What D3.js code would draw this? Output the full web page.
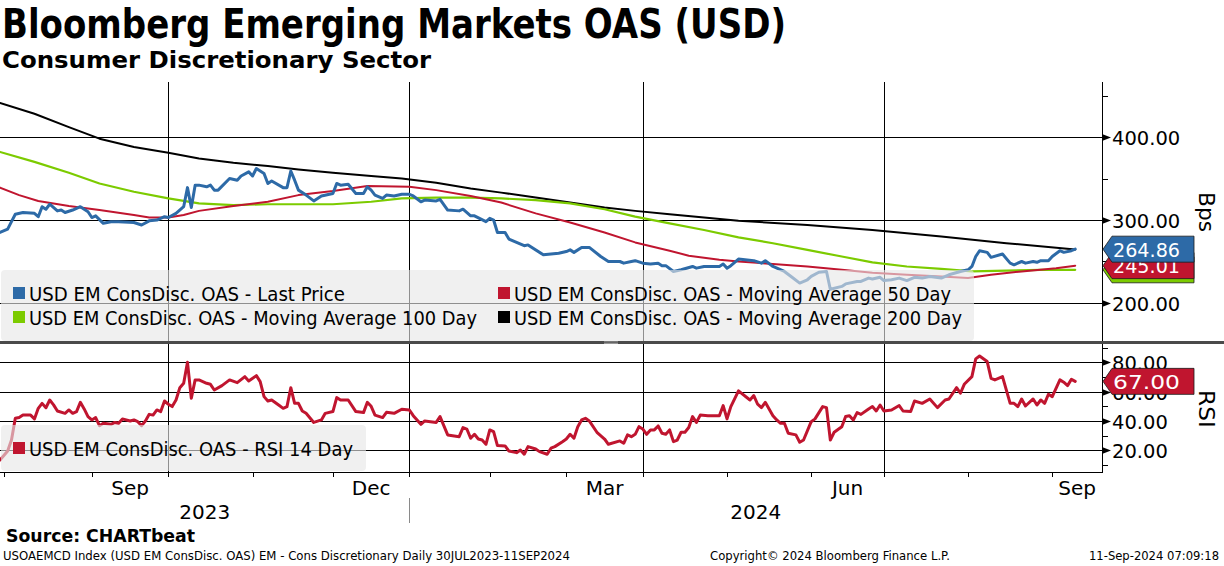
<!DOCTYPE html>
<html>
<head>
<meta charset="utf-8">
<script src="https://cdn.jsdelivr.net/npm/d3@7"></script>
<style>
  html, body { margin: 0; padding: 0; background: #fff; }
  svg { display: block; font-family: "DejaVu Sans", Verdana, sans-serif; }
</style>
</head>
<body>
<svg id="chart" width="1224" height="566"></svg>
<script>
// ---- data (x = trading day index, 0 = 31 Jul 2023, 281 = 11 Sep 2024) ----
const lastDays = [0, 2, 3, 4, 6, 9, 10, 11, 12, 13, 15, 16, 17, 19, 21, 23, 24, 25, 27, 29, 31, 35, 37, 39, 41, 43, 44, 46, 48, 49, 50, 51, 52, 54, 55, 56, 57, 60, 62, 63, 65, 66, 67, 69, 70, 71, 74, 75, 76, 77, 78, 80, 82, 84, 87, 88, 89, 91, 93, 95, 96, 97, 98, 100, 101, 103, 105, 107, 108, 110, 111, 114, 115, 117, 120, 121, 123, 124, 127, 128, 129, 130, 132, 133, 135, 137, 138, 142, 144, 146, 148, 149, 150, 152, 154, 157, 159, 162, 163, 165, 166, 168, 170, 172, 173, 174, 176, 178, 181, 182, 184, 188, 189, 190, 191, 193, 197, 199, 200, 202, 205, 207, 209, 211, 212, 214, 216, 217, 220, 221, 224, 225, 227, 228, 230, 231, 233, 235, 237, 239, 241, 243, 246, 248, 251, 253, 254, 255, 256, 258, 259, 262, 264, 265, 267, 268, 270, 271, 272, 274, 275, 277, 278, 280, 281];
const lastVals = [285, 289, 298, 307, 309, 308, 304, 316, 313, 319, 311, 312, 309, 312, 316, 310, 303, 305, 296, 298, 298, 297, 294, 299, 300, 304, 303, 308, 316, 339, 315, 342, 342, 340, 342, 336, 336, 350, 348, 353, 358, 353, 362, 356, 344, 347, 339, 339, 359, 348, 336, 330, 323, 329, 332, 344, 342, 343, 332, 332, 340, 336, 330, 326, 330, 329, 331, 331, 329, 322, 324, 323, 325, 312, 311, 313, 305, 305, 298, 302, 300, 285, 285, 277, 273, 269, 270, 258, 259, 260, 262, 264, 261, 267, 267, 256, 250, 250, 248, 250, 251, 248, 247, 248, 245, 245, 238, 240, 244, 242, 244, 244, 247, 242, 245, 253, 251, 248, 251, 244, 238, 231, 224, 228, 232, 237, 238, 216.5, 220, 223, 226, 226, 230, 229, 231, 227, 228, 230, 227, 231, 230, 232, 230, 234, 238, 240, 244, 256, 263, 261, 255, 259, 248, 246, 250, 248, 250, 249, 251, 251, 256, 263, 261, 263, 264.86];

const ma50Days = [0, 5, 10, 18, 26, 35, 39, 44, 48, 52, 61, 70, 78, 87, 96, 107, 114, 123, 131, 140, 149, 158, 166, 175, 180, 188, 193, 202, 211, 220, 228, 237, 246, 253, 259, 267, 276, 281];
const ma50Vals = [339, 330, 323, 317, 312, 306, 303, 303, 306, 311, 317, 322, 330, 335, 341, 340, 336, 329, 321, 308, 297, 285, 273, 263, 257, 252, 250, 247, 244, 240, 236.5, 234, 232, 230, 234, 238, 242, 245.01];

const ma100Days = [0, 9, 18, 26, 35, 44, 52, 61, 70, 78, 87, 97, 105, 114, 123, 131, 140, 149, 158, 166, 175, 184, 193, 202, 211, 220, 228, 237, 246, 254, 263, 272, 281];
const ma100Vals = [382, 370, 357, 344, 334, 326, 320, 318, 319, 319, 319, 322, 326, 327, 327, 326, 324, 320, 313, 304, 296, 288, 279, 272, 264, 256, 249, 244, 241, 238, 239, 240, 240];

const ma200Days = [0, 9, 18, 26, 35, 44, 52, 61, 70, 78, 87, 97, 105, 114, 123, 131, 140, 149, 158, 166, 175, 184, 193, 211, 228, 246, 263, 281];
const ma200Vals = [441, 428, 412, 398, 388, 381, 374, 369, 365, 361, 357, 353, 350, 345, 338, 333, 327, 321, 315, 311, 307, 303, 299, 294, 288, 280, 272, 264.5];

const rsiDays = [0, 2, 3, 4, 5, 6, 8, 9, 10, 11, 12, 13, 14, 15, 17, 18, 19, 20, 21, 22, 23, 24, 25, 26, 27, 29, 30, 31, 32, 34, 35, 36, 37, 38, 39, 40, 41, 42, 43, 44, 45, 46, 47, 48, 49, 50, 51, 52, 54, 55, 56, 58, 60, 62, 64, 65, 67, 68, 69, 70, 71, 73, 74, 75, 76, 77, 78, 79, 80, 82, 84, 85, 87, 88, 89, 91, 93, 95, 96, 97, 98, 100, 101, 103, 105, 107, 108, 110, 111, 114, 115, 117, 120, 121, 122, 123, 124, 125, 126, 127, 128, 129, 130, 132, 133, 135, 136, 137, 138, 140, 141, 143, 144, 145, 147, 148, 149, 150, 151, 152, 153, 154, 156, 158, 159, 162, 163, 164, 165, 166, 167, 168, 169, 170, 171, 172, 173, 174, 175, 176, 177, 178, 179, 180, 181, 182, 183, 185, 188, 189, 190, 191, 193, 196, 197, 198, 199, 200, 202, 203, 204, 205, 206, 208, 209, 210, 212, 213, 215, 216, 217, 218, 220, 221, 222, 223, 224, 225, 227, 228, 229, 230, 231, 233, 235, 236, 238, 239, 241, 243, 245, 247, 248, 250, 251, 252, 254, 255, 256, 258, 259, 260, 262, 264, 265, 266, 267, 268, 270, 271, 272, 273, 274, 275, 277, 278, 279, 280, 281];
const rsiVals = [13.4, 19.5, 27, 41.8, 42.3, 44, 44, 41.4, 48.6, 52, 49, 54.3, 51, 46.8, 45.2, 47.5, 45.2, 46.4, 52.7, 48.2, 43, 40.7, 42.3, 36.8, 38.4, 37.7, 39, 38.4, 41.4, 40, 40.7, 39.5, 36.8, 40, 44.5, 44, 47.5, 46.4, 53.6, 51.4, 49.8, 54.3, 62.7, 65.7, 80, 55.5, 68, 68, 65.7, 65, 61.1, 64.1, 68, 66.1, 70.2, 67.3, 70.9, 66.8, 56.6, 53.6, 54.3, 50.5, 48.6, 49.8, 62.7, 52, 52, 46.8, 45.2, 39, 40.7, 45.2, 46.4, 55.9, 54.3, 54.3, 46.4, 45.7, 52.7, 50, 44, 42.3, 45.9, 45.2, 48, 47.5, 43.6, 37.7, 40, 39, 43, 30.5, 29.3, 35.5, 34.5, 28.2, 30.9, 27.7, 27, 24.1, 33.9, 32.7, 23.2, 23, 19.5, 18.4, 20.2, 17.3, 22.5, 20.9, 19.1, 17.3, 21.4, 22.5, 25.9, 27.7, 30.9, 28.2, 36.1, 40.7, 41.8, 40, 32.3, 27.7, 24.1, 26.4, 24.8, 30.5, 29.3, 30.9, 36.1, 34.5, 30.9, 33.9, 33.9, 36.6, 31.6, 30.9, 33.9, 25.9, 27, 32.3, 32.3, 35.5, 43, 39, 44, 43.6, 43.6, 50.5, 41.4, 49.8, 60.5, 54.3, 57.3, 51.4, 49.1, 52.7, 43.6, 40.7, 38.4, 38.4, 31.6, 30.5, 25.5, 27, 39.5, 41.4, 49.8, 49.1, 27, 32.3, 36.1, 43, 43.6, 40.7, 45.7, 44.5, 48.2, 49.8, 46.8, 50.9, 46.8, 47.5, 50.5, 46.8, 46.4, 53.6, 52, 55, 49.1, 54.3, 55, 62.7, 58.9, 65, 70.2, 82.3, 84.3, 80.5, 69.1, 68, 70.2, 52, 52, 49.8, 55, 50.2, 55, 50.9, 54.3, 52, 58.2, 56.6, 68, 66.4, 64.1, 68.4, 67];

// axis ticks and labels
const monthStartDays = [1, 24, 44, 66, 87, 107, 128, 148, 168, 190, 212, 231, 253, 275];
const quarterStartDays = [44, 107, 168, 231];
const monthLabels = ["Sep", "Dec", "Mar", "Jun", "Sep"];
const monthLabelDays = [34, 97, 158, 221.5, 281.5];
const yearLabels = ["2023", "2024"];
const yearLabelDays = [53.5, 197.5];
const yearBreakDay = 107;
const bpsTicks = [200, 300, 400];
const bpsMinorTicks = [250, 350, 450];
const rsiTicks = [20, 40, 60, 80];
const rsiMinorTicks = [10, 30, 50, 70, 90];

const seriesNames = [
  "USD EM ConsDisc. OAS - Last Price",
  "USD EM ConsDisc. OAS - Moving Average 50 Day",
  "USD EM ConsDisc. OAS - Moving Average 100 Day",
  "USD EM ConsDisc. OAS - Moving Average 200 Day",
  "USD EM ConsDisc. OAS - RSI 14 Day"
];

// ---- styles ----
const BLUE = "#2d6aa7", RED = "#c0152f", GREEN = "#7ccb00", BLACK = "#000";
const FONT = "'DejaVu Sans', Verdana, sans-serif";

const svg = d3.select("#chart");
const plotRight = 1102;

const x = d3.scaleLinear().domain([0, 288]).range([0, plotRight]);
const yTop = d3.scaleLinear().domain([154.2, 466.3]).range([341, 82]);
const yRsi = d3.scaleLinear().domain([5.2, 91.8]).range([472, 345]);

const zip = (days, vals) => days.map((d, i) => [d, vals[i]]);

// text helper: set size and squeeze to the width seen in the picture
function txt(g, s, px, py, size, width, opts = {}) {
  const t = g.append("text")
    .attr("x", px).attr("y", py)
    .attr("font-size", size)
    .attr("font-family", FONT)
    .attr("font-weight", opts.bold ? "bold" : "normal")
    .attr("fill", opts.fill || "#000")
    .attr("text-anchor", opts.anchor || "start")
    .text(s);
  if (width) t.attr("textLength", width).attr("lengthAdjust", "spacingAndGlyphs");
  return t;
}

// ---- titles ----
txt(svg, "Bloomberg Emerging Markets OAS (USD)", 2, 37.5, 41, 784, { bold: true });
txt(svg, "Consumer Discretionary Sector", 2, 67.5, 22.5, 429, { bold: true });

// ---- grid ----
const grid = svg.append("g").attr("stroke", "#000").attr("stroke-width", 1);
grid.selectAll(".hb").data(bpsTicks).enter().append("line")
  .attr("x1", 0).attr("x2", plotRight)
  .attr("y1", d => Math.round(yTop(d)) + 0.5).attr("y2", d => Math.round(yTop(d)) + 0.5);
grid.selectAll(".hr").data(rsiTicks).enter().append("line")
  .attr("x1", 0).attr("x2", plotRight)
  .attr("y1", d => Math.round(yRsi(d)) + 0.5).attr("y2", d => Math.round(yRsi(d)) + 0.5);
grid.selectAll(".vq").data(quarterStartDays).enter().append("line")
  .attr("x1", d => Math.round(x(d)) + 0.5).attr("x2", d => Math.round(x(d)) + 0.5)
  .attr("y1", 82).attr("y2", 472);

// ---- lines ----
const lineTop = d3.line().x(d => x(d[0])).y(d => yTop(d[1]));
const lineRsi = d3.line().x(d => x(d[0])).y(d => yRsi(d[1]));

function drawLine(data, gen, color, w) {
  svg.append("path").datum(data)
    .attr("d", gen).attr("fill", "none")
    .attr("stroke", color).attr("stroke-width", w)
    .attr("stroke-linejoin", "round").attr("stroke-linecap", "round");
}
drawLine(zip(ma200Days, ma200Vals), lineTop, BLACK, 2);
drawLine(zip(ma100Days, ma100Vals), lineTop, GREEN, 2.2);
drawLine(zip(ma50Days, ma50Vals), lineTop, RED, 2);
drawLine(zip(lastDays, lastVals), lineTop, BLUE, 3);
drawLine(zip(rsiDays, rsiVals), lineRsi, RED, 3);

// ---- legends (semi transparent, lines show through faded) ----
const leg = svg.append("g");
leg.append("rect").attr("x", 1).attr("y", 270).attr("width", 973).attr("height", 71)
  .attr("rx", 4).attr("fill", "#e6e6e6").attr("fill-opacity", 0.62);
leg.append("rect").attr("x", 1).attr("y", 425).attr("width", 365).attr("height", 46)
  .attr("rx", 4).attr("fill", "#e6e6e6").attr("fill-opacity", 0.62);

const legendItems = [
  { name: seriesNames[0], color: BLUE, mx: 13, my: 287, w: 316 },
  { name: seriesNames[1], color: RED, mx: 498, my: 287, w: 437 },
  { name: seriesNames[2], color: GREEN, mx: 13, my: 311, w: 448 },
  { name: seriesNames[3], color: BLACK, mx: 498, my: 311, w: 448 },
  { name: seriesNames[4], color: RED, mx: 13, my: 442, w: 324 }
];
legendItems.forEach(d => {
  leg.append("rect").attr("x", d.mx).attr("y", d.my).attr("width", 12).attr("height", 12).attr("fill", d.color);
  txt(leg, d.name, d.mx + 16, d.my + 14, 19, d.w);
});

// ---- panel separator ----
svg.append("rect").attr("x", 0).attr("y", 341).attr("width", 1224).attr("height", 3).attr("fill", "#4a4a4a");
svg.append("rect").attr("x", 604).attr("y", 341.5).attr("width", 14).attr("height", 0.8).attr("fill", "#aaa");
svg.append("rect").attr("x", 604).attr("y", 343).attr("width", 14).attr("height", 0.8).attr("fill", "#aaa");

// ---- right axes ----
const ax = svg.append("g");
ax.append("line").attr("x1", plotRight + 0.5).attr("x2", plotRight + 0.5).attr("y1", 82).attr("y2", 341).attr("stroke", "#000");
ax.append("line").attr("x1", plotRight + 0.5).attr("x2", plotRight + 0.5).attr("y1", 344).attr("y2", 473).attr("stroke", "#000");

function majorTicks(vals, scale) {
  vals.forEach(v => {
    const yy = Math.round(scale(v)) + 0.5;
    ax.append("path").attr("d", `M${plotRight},${yy - 3.5}L${plotRight + 9},${yy}L${plotRight},${yy + 3.5}Z`).attr("fill", "#000");
    txt(ax, v.toFixed(2), 1112, yy + 7, 19.5, null);
  });
}
function minorTicks(vals, scale) {
  vals.forEach(v => {
    const yy = Math.round(scale(v)) + 0.5;
    ax.append("line").attr("x1", plotRight).attr("x2", plotRight + 6).attr("y1", yy).attr("y2", yy).attr("stroke", "#000");
  });
}
majorTicks(bpsTicks, yTop);
minorTicks(bpsMinorTicks, yTop);
majorTicks(rsiTicks, yRsi);
minorTicks(rsiMinorTicks, yRsi);

txt(ax, "Bps", 0, 0, 21, 40).attr("transform", "translate(1199,192) rotate(90)");
txt(ax, "RSI", 0, 0, 21, 38).attr("transform", "translate(1199,390) rotate(90)");

// ---- last value tags ----
function tag(v, scale, color, label) {
  const yy = scale(v), h = 26, x0 = plotRight + 1, tip = 9, x1 = 1194;
  const g = svg.append("g");
  g.append("path")
    .attr("d", `M${x0},${yy}L${x0 + tip},${yy - h / 2}L${x1},${yy - h / 2}L${x1},${yy + h / 2}L${x0 + tip},${yy + h / 2}Z`)
    .attr("fill", color).attr("stroke", "#1a1a1a").attr("stroke-width", 0.8);
  txt(g, label, 1113, yy + 7.5, 20, 67, { fill: "#fff" });
}
tag(ma100Vals[ma100Vals.length - 1], yTop, GREEN, ma100Vals[ma100Vals.length - 1].toFixed(2));
tag(ma50Vals[ma50Vals.length - 1], yTop, RED, ma50Vals[ma50Vals.length - 1].toFixed(2));
tag(lastVals[lastVals.length - 1], yTop, BLUE, lastVals[lastVals.length - 1].toFixed(2));
tag(rsiVals[rsiVals.length - 1], yRsi, RED, rsiVals[rsiVals.length - 1].toFixed(2));

// ---- bottom time axis ----
const bx = svg.append("g");
bx.append("line").attr("x1", 0).attr("x2", plotRight + 1).attr("y1", 472.5).attr("y2", 472.5).attr("stroke", "#000");
bx.selectAll(".mt").data(monthStartDays).enter().append("line")
  .attr("x1", d => Math.round(x(d)) + 0.5).attr("x2", d => Math.round(x(d)) + 0.5)
  .attr("y1", 472).attr("y2", 477).attr("stroke", "#000");
monthLabels.forEach((m, i) => txt(bx, m, x(monthLabelDays[i]), 495, 20, null, { anchor: "middle" }));
yearLabels.forEach((yv, i) => txt(bx, yv, x(yearLabelDays[i]), 519, 20, null, { anchor: "middle" }));
bx.append("line").attr("x1", Math.round(x(yearBreakDay)) + 0.5).attr("x2", Math.round(x(yearBreakDay)) + 0.5)
  .attr("y1", 498).attr("y2", 523).attr("stroke", "#8a8a8a");

// ---- footer ----
txt(svg, "Source: CHARTbeat", 6, 541.5, 17.5, 189, { bold: true });
txt(svg, "USOAEMCD Index (USD EM ConsDisc. OAS) EM - Cons Discretionary  Daily 30JUL2023-11SEP2024", 3, 560, 12, 567);
txt(svg, "Copyright\u00A9 2024 Bloomberg Finance L.P.", 710, 560, 12, 240);
txt(svg, "11-Sep-2024 07:09:18", 1089, 560, 12, 130);
</script>
</body>
</html>
